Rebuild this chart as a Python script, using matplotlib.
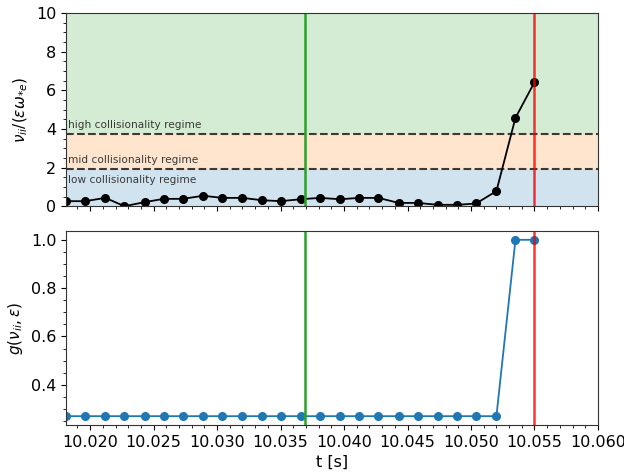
import matplotlib
matplotlib.use("Agg")
import matplotlib.pyplot as plt
import matplotlib.transforms as mtransforms
from matplotlib.ticker import AutoMinorLocator

# time samples [s]
t = [10.0181, 10.0196, 10.0212, 10.0227, 10.0243, 10.0258, 10.0273, 10.0289,
     10.0304, 10.0320, 10.0335, 10.0350, 10.0366, 10.0381, 10.0397, 10.0412,
     10.0427, 10.0443, 10.0458, 10.0474, 10.0489, 10.0504, 10.0520, 10.0535,
     10.0550]

# normalised ion collisionality
nu_norm = [0.26, 0.26, 0.43, 0.00, 0.21, 0.38, 0.38, 0.54, 0.43, 0.43, 0.31,
           0.26, 0.36, 0.43, 0.36, 0.43, 0.43, 0.17, 0.17, 0.07, 0.07, 0.14,
           0.78, 4.57, 6.42]

# collisionality weighting factor
g_val = [0.27] * 23 + [1.0, 1.0]

# regime boundaries
low_mid = 1.94
mid_high = 3.72
nu_max = 10

t_green = 10.0369
t_red = 10.055
t_end = 10.060

fig = plt.figure(figsize=(6.24, 4.74), dpi=100)
ax1 = fig.add_axes([0.1058, 0.565, 0.8525, 0.4076])
ax2 = fig.add_axes([0.1058, 0.1034, 0.8525, 0.4093], sharex=ax1)

# top panel: regimes and collisionality
ax1.axhspan(0, low_mid, color='tab:blue', alpha=0.2, lw=0)
ax1.axhspan(low_mid, mid_high, color='tab:orange', alpha=0.2, lw=0)
ax1.axhspan(mid_high, nu_max, color='tab:green', alpha=0.2, lw=0)
ax1.axhline(low_mid, color='k', ls='--', lw=1.5, alpha=0.75)
ax1.axhline(mid_high, color='k', ls='--', lw=1.5, alpha=0.75)

tr = mtransforms.blended_transform_factory(ax1.transAxes, ax1.transData)
label_style = dict(transform=tr, fontsize=7.6, color='#383838', va='baseline')
ax1.text(0.004, 4.05, 'high collisionality regime', **label_style)
ax1.text(0.004, 2.25, 'mid collisionality regime', **label_style)
ax1.text(0.004, 1.18, 'low collisionality regime', **label_style)

ax1.plot(t, nu_norm, 'o-', color='k', ms=5.5, lw=1.3)
ax1.axvline(t_green, color='tab:green', lw=1.8)
ax1.axvline(t_red, color='red', lw=1.8, alpha=0.8)
ax1.set_ylim(0, nu_max)
ax1.set_ylabel(r'$\nu_{ii}/(\epsilon\omega_{*e})$', fontsize=11)
ax1.tick_params(labelbottom=False)

# bottom panel: weighting factor
ax2.plot(t, g_val, 'o-', color='tab:blue', ms=5.5, lw=1.3)
ax2.axvline(t_green, color='tab:green', lw=1.8)
ax2.axvline(t_red, color='red', lw=1.8, alpha=0.8)
ax2.set_ylabel(r'$g(\nu_{ii},\epsilon)$', fontsize=11)
ax2.set_xlabel('t [s]', fontsize=11.5)
ax2.set_xlim(t[0], t_end)
ax2.set_xticks([10.020, 10.025, 10.030, 10.035, 10.040, 10.045, 10.050,
                10.055, 10.060])
ax2.set_xticklabels(['10.020', '10.025', '10.030', '10.035', '10.040',
                     '10.045', '10.050', '10.055', '10.060'])
ax2.set_yticks([0.4, 0.6, 0.8, 1.0])

for ax in (ax1, ax2):
    ax.xaxis.set_minor_locator(AutoMinorLocator())
    ax.yaxis.set_minor_locator(AutoMinorLocator())
    ax.tick_params(labelsize=11.5)
    for s in ax.spines.values():
        s.set_color('#333333')

fig.savefig('out.png', dpi=100)
